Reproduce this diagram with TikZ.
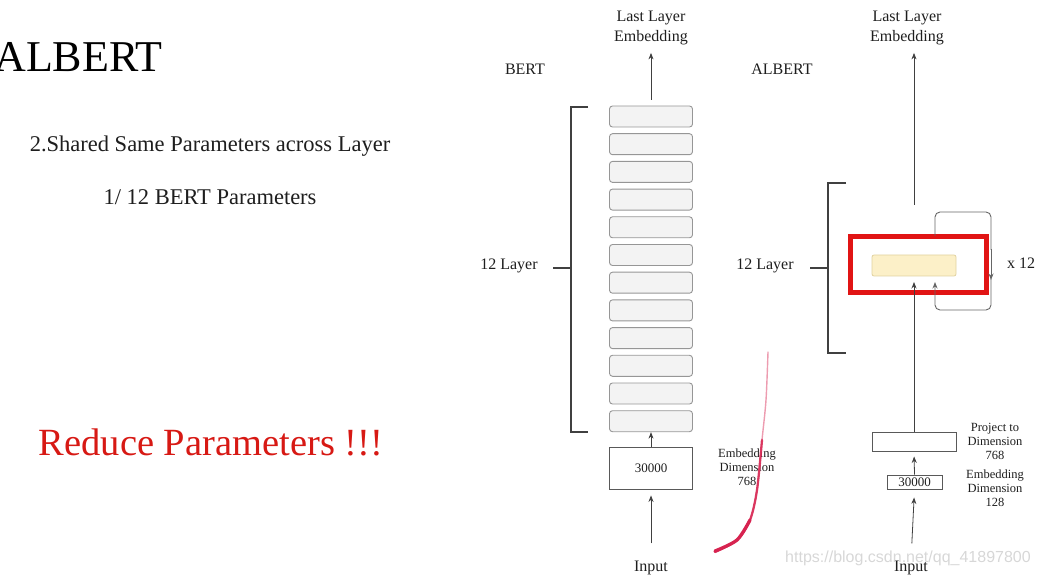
\documentclass[tikz,border=0pt]{standalone}
\usepackage{fontspec}
\setmainfont{Liberation Serif}
\setsansfont{Liberation Sans}
\usetikzlibrary{arrows.meta}
\definecolor{txt}{RGB}{30,30,30}
\definecolor{redtxt}{RGB}{215,25,20}
\definecolor{hlred}{RGB}{225,20,20}
\definecolor{layfill}{RGB}{243,243,243}
\definecolor{laydraw}{RGB}{150,150,150}
\definecolor{yfill}{RGB}{252,240,200}
\definecolor{ydraw}{RGB}{225,210,160}
\definecolor{pen}{RGB}{215,35,80}
\definecolor{wm}{RGB}{215,215,215}
\begin{document}
\begin{tikzpicture}[x=1pt,y=-1pt,
  lay/.style={draw=laydraw,fill=layfill,rounded corners=3pt,minimum width=83pt,minimum height=21pt,inner sep=0pt,line width=0.9pt},
  plainbox/.style={draw=black!65,line width=0.9pt,inner sep=0pt,font=\fontsize{13}{15}\selectfont,text=txt},
  lbl/.style={font=\fontsize{16}{19.5}\selectfont,align=center,inner sep=0pt,text=txt},
  small/.style={font=\fontsize{12.5}{14}\selectfont,align=center,inner sep=0pt,text=txt},
  arr/.style={-{Stealth[length=6.5pt,width=5pt]},line width=0.8pt,draw=black!75},
  brk/.style={line width=1.4pt,draw=black!75},
  loopline/.style={line width=0.9pt,draw=black!60,rounded corners=5pt}
]
\useasboundingbox (0,0) rectangle (1039,577);

% left texts
\node[anchor=base east,inner sep=0pt,font=\fontsize{44}{50}\selectfont,text=black] (title) at (163,72) {ALBERT};
\node[anchor=base,inner sep=0pt,font=\fontsize{22.5}{26}\selectfont,text=txt] (shared) at (210,152) {2.Shared Same Parameters across Layer};
\node[anchor=base,inner sep=0pt,font=\fontsize{22.5}{26}\selectfont,text=txt] (onetw) at (210,205) {1/ 12 BERT Parameters};
\node[anchor=base,inner sep=0pt,font=\fontsize{38.5}{42}\selectfont,text=redtxt] (reduce) at (211,455) {Reduce Parameters !!!};

% ---------------- BERT ----------------
\node[lbl] (topA) at (651,28) {Last Layer\\Embedding};
\node[lbl,anchor=base] (bertlbl) at (525,75) {BERT};
\foreach \i in {1,...,12}{
  \node[lay] (L\i) at (651,{116.5+(\i-1)*27.7}) {};
}
\node[plainbox,minimum width=83pt,minimum height=42pt] (embA) at (651,468) {30000};
\node[lbl,anchor=base] (inA) at (651,571) {Input};
\node[small] (edA) at (747,467) {Embedding\\Dimension\\768};
\node[lbl] (layA) at (509,266) {12 Layer};

\draw[arr,shorten <=6pt,shorten >=8pt] (L1.north) -- (topA.south);
\draw[arr] (embA.north) -- (L12.south);
\draw[arr,shorten <=17pt,shorten >=6pt] (inA.north) -- (embA.south);

\draw[brk] (588,107) -- (571,107) -- (571,432) -- (588,432);
\draw[brk] (553,268) -- (571,268);

% ---------------- ALBERT ----------------
\node[lbl] (topB) at (907,28) {Last Layer\\Embedding};
\node[lbl,anchor=base] (albertlbl) at (782,75) {ALBERT};
\node[lbl] (layB) at (765,266) {12 Layer};
\node[draw=ydraw,fill=yfill,rounded corners=2pt,minimum width=84pt,minimum height=21pt,inner sep=0pt,line width=0.8pt] (LB) at (914,265.5) {};
\node[draw=hlred,line width=5pt,minimum width=136pt,minimum height=56pt,inner sep=0pt] (hl) at (918.5,264.5) {};
\node[lbl,anchor=west] (x12) at (1007,263) {x 12};
\node[plainbox,minimum width=84pt,minimum height=19pt] (proj) at (914,441.5) {};
\node[plainbox,minimum width=55pt,minimum height=14pt] (embB) at (914.5,482) {30000};
\node[small] (ptB) at (995,441) {Project to\\Dimension\\768};
\node[small] (edB) at (995,488) {Embedding\\Dimension\\128};
\node[lbl,anchor=base] (inB) at (911,571) {Input};

\coordinate (loopS) at (935,236);
\coordinate (loopE) at (935,282);
\coordinate (inTip) at (914,282);
\coordinate (outS) at (914,205);

\draw[arr,shorten >=8pt] (outS) -- (outS |- topB.south);
\draw[arr] (proj.north) -- (inTip);
\draw[arr,shorten >=5pt] (embB.north) -- (proj.south);
\draw[arr,shorten <=17pt,shorten >=8pt] (inB.north) -- (embB.south);

\draw[loopline] (loopS) -- (935,212) -- (991,212) -- (991,250);
\draw[arr,draw=black!60] (991,249) -- (991,280);
\draw[loopline,-{Stealth[length=6.5pt,width=5pt]}] (991,279) -- (991,310) -- (935,310) -- (loopE);

\draw[brk] (846,183) -- (828,183) -- (828,353) -- (846,353);
\draw[brk] (810,268) -- (828,268);

% pen scribble
\draw[pen!45,line width=1.4pt,line cap=round] plot[smooth] coordinates {(768,352) (766,400) (762,440) (757,490) (750,520) (737,540) (715,552)};
\draw[pen,opacity=0.85,line width=2.3pt,line cap=round] plot[smooth] coordinates {(762,440) (757,490) (750,520) (737,540) (715,552)};
\draw[pen,line width=3.3pt,line cap=round] plot[smooth] coordinates {(750,520) (737,540) (715,551)};

% watermark
\node[anchor=center,inner sep=0pt,font=\sffamily\fontsize{16}{18}\selectfont,text=wm] (wmark) at (908,558) {https://blog.csdn.net/qq\_41897800};
\end{tikzpicture}
\end{document}
